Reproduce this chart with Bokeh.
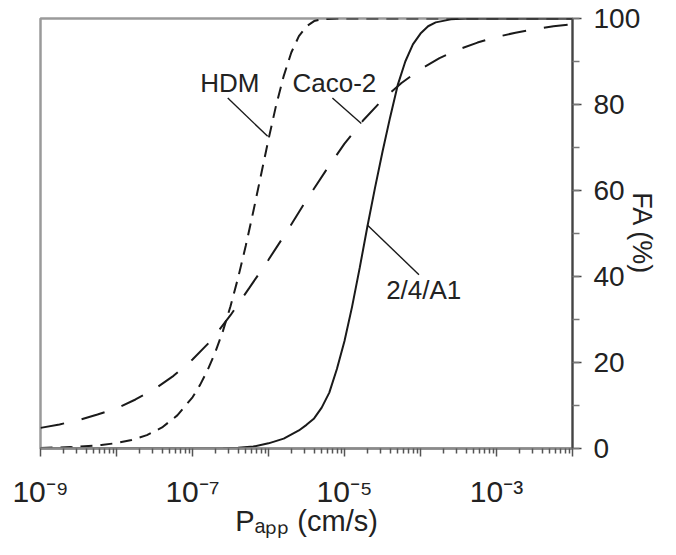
from bokeh.plotting import figure
from bokeh.models import FixedTicker, SingleIntervalTicker, Label, Range1d
from bokeh.embed import file_html
from bokeh.resources import INLINE

# ---- data (log10 of Papp in cm/s, FA in %) ----
a1_log_papp = [-9.0, -7.0, -6.6, -6.4, -6.2, -6.0, -5.8, -5.6, -5.5, -5.4, -5.3, -5.2, -5.1,
               -5.0, -4.9, -4.8, -4.7, -4.6, -4.5, -4.4, -4.3, -4.2, -4.1, -4.0, -3.9, -3.8,
               -3.6, -3.4, -2.0]
a1_fa = [0.0, 0.0, 0.05, 0.15, 0.45, 1.2, 2.3, 4.2, 5.5, 7.0, 9.5, 13.0, 18.5,
         25.0, 33.0, 42.0, 51.5, 60.5, 69.0, 77.0, 84.5, 90.0, 94.0, 96.5, 98.2, 99.1,
         99.8, 100.0, 100.0]

hdm_log_papp = [-9.0, -8.6, -8.2, -8.0, -7.8, -7.6, -7.4, -7.2, -7.0, -6.9, -6.8, -6.7, -6.6,
                -6.5, -6.4, -6.3, -6.2, -6.1, -6.0, -5.9, -5.8, -5.7, -5.6, -5.5, -5.4, -5.3,
                -5.1, -2.0]
hdm_fa = [0.13, 0.32, 0.8, 1.26, 2.0, 3.1, 4.9, 7.7, 11.9, 14.8, 18.3, 22.4, 27.3,
          33.1, 39.7, 47.1, 55.1, 63.5, 71.9, 79.8, 86.6, 92.1, 95.9, 98.2, 99.4, 99.8,
          100.0, 100.0]

caco_log_papp = [-9.0, -8.75, -8.5, -8.25, -8.0, -7.75, -7.5, -7.25, -7.0, -6.75, -6.5, -6.25,
                 -6.0, -5.75, -5.5, -5.25, -5.0, -4.75, -4.5, -4.25, -4.0, -3.75, -3.5, -3.25,
                 -3.0, -2.75, -2.5, -2.25, -2.0]
caco_fa = [4.8, 5.6, 6.6, 7.9, 9.3, 11.4, 13.8, 16.9, 20.7, 25.2, 31.0, 37.4,
           43.9, 50.7, 57.8, 64.5, 70.9, 76.4, 81.1, 85.0, 88.2, 90.8, 92.8, 94.4,
           95.7, 96.7, 97.5, 98.2, 98.7]

# curve labels and leader lines
curve_names = ["HDM", "Caco-2", "2/4/A1"]
name_log_x = [-6.51, -5.684, -4.452]
name_y = [84.9, 84.9, 36.9]
name_align = ["center", "left", "left"]
leader_log_x0 = [-6.536, -5.159, -4.70]
leader_y0 = [81.5, 81.5, 52.0]
leader_log_x1 = [-6.011, -4.779, -4.02]
leader_y1 = [72.6, 75.6, 40.4]

x_decades = [-9, -8, -7, -6, -5, -4, -3, -2]
x_labeled_decades = [-9, -7, -5, -3]
y_tick_step = 20
x_title = "P\u2090\u209a\u209a (cm/s)"
y_title = "FA (%)"

FONT = "Liberation Sans"
INK = "#1a1a1a"
TXT = "#222222"
SUP = str.maketrans("-0123456789", "\u207b\u2070\u00b9\u00b2\u00b3\u2074\u2075\u2076\u2077\u2078\u2079")

p = figure(width=660, height=539, x_axis_type="log",
           x_range=Range1d(1e-9, 1e-2), y_range=Range1d(0, 100),
           y_axis_location="right", output_backend="svg", toolbar_location=None,
           min_border_left=40, min_border_top=18, min_border_right=86, min_border_bottom=90)
p.title.visible = False
p.xgrid.visible = False
p.ygrid.visible = False
p.background_fill_color = "white"
p.border_fill_color = "white"
p.outline_line_color = "#9a9a9a"
p.outline_line_width = 2.5

# x axis
major_vals = [10.0 ** d for d in x_decades]
xa = p.xaxis[0]
xa.ticker = FixedTicker(ticks=major_vals,
                        minor_ticks=[k * 10.0 ** d for d in x_decades[:-1] for k in range(2, 10)])
xa.major_label_overrides = {v: (("10" + str(d).translate(SUP)) if d in x_labeled_decades else "")
                            for v, d in zip(major_vals, x_decades)}
xa.axis_line_color = "#8a8a8a"
xa.axis_line_width = 2.5
xa.major_tick_in = 0
xa.major_tick_out = 8
xa.minor_tick_in = 0
xa.minor_tick_out = 5
xa.major_tick_line_color = "#555555"
xa.minor_tick_line_color = "#555555"
xa.major_tick_line_width = 1.5
xa.minor_tick_line_width = 1.5
xa.major_label_standoff = 18
xa.major_label_text_font = FONT
xa.major_label_text_font_size = "30px"
xa.major_label_text_color = TXT
xa.axis_label = x_title
xa.axis_label_standoff = -6
xa.axis_label_text_font = FONT
xa.axis_label_text_font_size = "29px"
xa.axis_label_text_font_style = "normal"
xa.axis_label_text_color = TXT

# y axis (right)
ya = p.yaxis[0]
ya.ticker = SingleIntervalTicker(interval=y_tick_step, num_minor_ticks=2)
ya.axis_line_color = "#444444"
ya.axis_line_width = 2
ya.major_tick_in = 0
ya.major_tick_out = 9
ya.minor_tick_in = 0
ya.minor_tick_out = 7
ya.major_tick_line_color = "#444444"
ya.minor_tick_line_color = "#777777"
ya.major_tick_line_width = 1.5
ya.minor_tick_line_width = 1.5
ya.major_label_standoff = 12
ya.major_label_text_font = FONT
ya.major_label_text_font_size = "28px"
ya.major_label_text_color = TXT
ya.axis_label = y_title
ya.axis_label_standoff = -16
ya.axis_label_text_font = FONT
ya.axis_label_text_font_size = "27px"
ya.axis_label_text_font_style = "normal"
ya.axis_label_text_color = TXT

# curves
p.line([10.0 ** v for v in caco_log_papp], caco_fa, line_color=INK, line_width=2,
       line_dash="24 18")
p.line([10.0 ** v for v in hdm_log_papp], hdm_fa, line_color=INK, line_width=2,
       line_dash="12 8")
p.line([10.0 ** v for v in a1_log_papp], a1_fa, line_color=INK, line_width=2)

# leader lines + names
p.segment(x0=[10.0 ** v for v in leader_log_x0], y0=leader_y0,
          x1=[10.0 ** v for v in leader_log_x1], y1=leader_y1,
          line_color=INK, line_width=1.4)
for name, lx, ly, al in zip(curve_names, name_log_x, name_y, name_align):
    p.add_layout(Label(x=10.0 ** lx, y=ly, text=name, text_align=al, text_baseline="alphabetic",
                       text_font=FONT, text_font_size="26px", text_color=TXT))

open("out.html", "w").write(file_html(p, INLINE))
